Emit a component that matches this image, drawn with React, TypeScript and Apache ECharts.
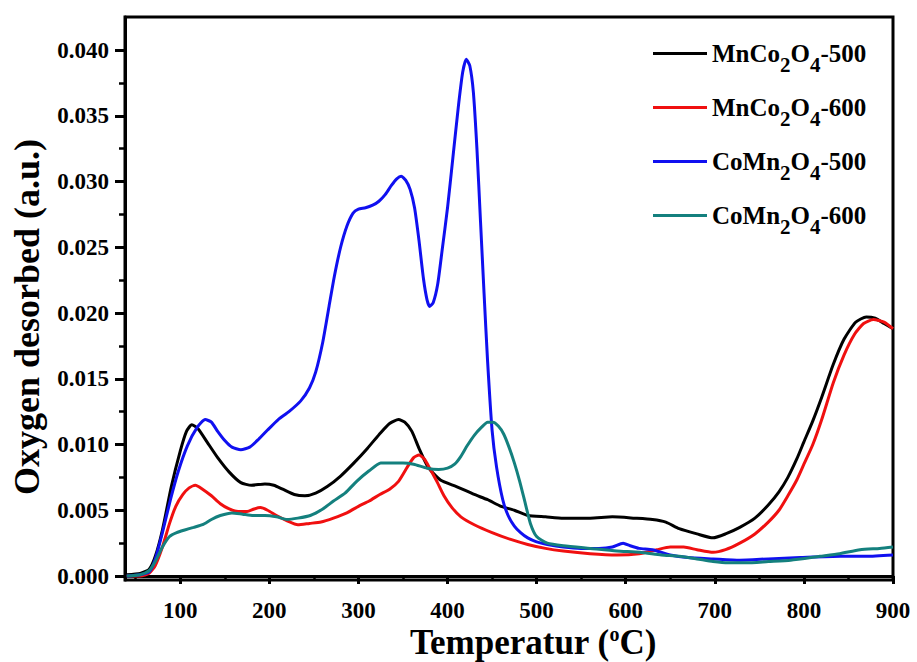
import React, { useEffect, useRef } from "react";
import * as echarts from "echarts";

const seriesNames = ["MnCo2O4-500", "MnCo2O4-600", "CoMn2O4-500", "CoMn2O4-600"];
const legendRich = ["MnCo{s|2}O{s|4}-500", "MnCo{s|2}O{s|4}-600", "CoMn{s|2}O{s|4}-500", "CoMn{s|2}O{s|4}-600"];
const seriesColors = ["#000000", "#f01010", "#1010f0", "#14807e"];
const xTitle = "Temperatur ({sup|o}C)";
const yTitle = "Oxygen desorbed (a.u.)";

const xTicks = [100, 200, 300, 400, 500, 600, 700, 800, 900];
const xMinorTicks = [50, 150, 250, 350, 450, 550, 650, 750, 850];
const yTicks = [0, 0.005, 0.01, 0.015, 0.02, 0.025, 0.03, 0.035, 0.04];
const yMinorTicks = [0.0025, 0.0075, 0.0125, 0.0175, 0.0225, 0.0275, 0.0325, 0.0375];

const blackT = [40, 55, 65, 72, 80, 90, 100, 107, 113, 120, 130, 142, 155, 168, 180, 195, 205, 215, 228, 240, 252, 265, 280, 295, 310, 325, 335, 345, 352, 360, 368, 378, 392, 410, 430, 445, 460, 475, 490, 510, 530, 560, 585, 610, 630, 645, 660, 680, 698, 712, 728, 745, 760, 772, 782, 792, 800, 810, 820, 833, 845, 858, 870, 880, 890, 900];
const blackV = [0.0001, 0.0002, 0.0005, 0.0015, 0.0035, 0.0068, 0.0095, 0.011, 0.0115, 0.0112, 0.0102, 0.009, 0.0079, 0.0071, 0.0069, 0.007, 0.0069, 0.0066, 0.0062, 0.0061, 0.0063, 0.0068, 0.0076, 0.0086, 0.0097, 0.0109, 0.0116, 0.0119, 0.0117, 0.011, 0.0097, 0.0083, 0.0073, 0.0068, 0.0062, 0.0058, 0.0053, 0.005, 0.0046, 0.0045, 0.0044, 0.0044, 0.0045, 0.0044, 0.0043, 0.0041, 0.0036, 0.0032, 0.0029, 0.0032, 0.0037, 0.0044, 0.0054, 0.0064, 0.0075, 0.0089, 0.0102, 0.0118, 0.0136, 0.0161, 0.018, 0.0193, 0.0197, 0.0196, 0.0192, 0.0188];

const redT = [40, 55, 65, 72, 80, 88, 95, 103, 110, 117, 125, 135, 145, 155, 165, 175, 183, 190, 198, 208, 220, 232, 245, 258, 272, 287, 300, 312, 324, 335, 345, 355, 362, 368, 374, 380, 388, 396, 405, 415, 430, 450, 470, 490, 510, 530, 560, 590, 615, 635, 650, 665, 680, 698, 712, 728, 745, 760, 772, 782, 792, 800, 810, 820, 833, 845, 857, 867, 878, 890, 900];
const redV = [0, 0, 0.0002, 0.0008, 0.0022, 0.004, 0.0053, 0.0062, 0.0067, 0.0069, 0.0066, 0.0061, 0.0055, 0.0051, 0.0049, 0.0049, 0.0051, 0.0052, 0.005, 0.0046, 0.0042, 0.0039, 0.004, 0.0041, 0.0044, 0.0048, 0.0053, 0.0057, 0.0062, 0.0066, 0.0072, 0.0083, 0.009, 0.0092, 0.0089, 0.0082, 0.0072, 0.0061, 0.0052, 0.0045, 0.0039, 0.0033, 0.0028, 0.0024, 0.0021, 0.0019, 0.0017, 0.0016, 0.0017, 0.002, 0.0022, 0.0022, 0.002, 0.0018, 0.002, 0.0025, 0.0032, 0.0041, 0.005, 0.0061, 0.0073, 0.0085, 0.01, 0.0119, 0.0147, 0.0168, 0.0184, 0.0192, 0.0195, 0.0193, 0.0188];

const blueT = [40, 55, 65, 72, 80, 89, 98, 108, 119, 128, 135, 142, 150, 158, 168, 178, 188, 198, 210, 222, 235, 245, 252, 260, 267, 273, 280, 287, 294, 300, 308, 316, 323, 330, 337, 343, 348, 353, 358, 363, 368, 373, 377, 380, 384, 389, 394, 400, 406, 412, 417, 421, 425, 429, 433, 437, 441, 445, 450, 455, 462, 468, 475, 482, 490, 500, 512, 530, 550, 570, 585, 597, 605, 615, 630, 650, 670, 698, 728, 760, 796, 841, 870, 900];
const blueV = [0, 0.0001, 0.0003, 0.0013, 0.0033, 0.0058, 0.008, 0.0099, 0.0113, 0.0119, 0.0117, 0.011, 0.0103, 0.0098, 0.0096, 0.0098, 0.0104, 0.0111, 0.0119, 0.0125, 0.0133, 0.0143, 0.0155, 0.0178, 0.0205, 0.0228, 0.025, 0.0266, 0.0276, 0.0279, 0.028, 0.0282, 0.0285, 0.029, 0.0297, 0.0302, 0.0304, 0.0301, 0.0294, 0.028, 0.0255, 0.0226, 0.021, 0.0205, 0.0208, 0.0222, 0.0248, 0.028, 0.0318, 0.0356, 0.0383, 0.0393, 0.0388, 0.0368, 0.0325, 0.027, 0.0215, 0.0163, 0.0111, 0.0083, 0.0058, 0.0046, 0.0038, 0.0033, 0.0029, 0.0026, 0.0024, 0.0022, 0.0021, 0.0021, 0.0022, 0.0025, 0.0023, 0.0021, 0.002, 0.0016, 0.0014, 0.0013, 0.0012, 0.0013, 0.0014, 0.0015, 0.0015, 0.0016];

const tealT = [40, 55, 65, 72, 80, 88, 96, 105, 115, 125, 135, 145, 158, 170, 182, 195, 208, 220, 232, 246, 260, 272, 285, 298, 312, 325, 338, 350, 362, 377, 390, 400, 408, 415, 422, 430, 438, 445, 451, 457, 463, 469, 475, 481, 487, 493, 500, 512, 530, 560, 590, 616, 640, 660, 680, 698, 715, 735, 760, 785, 818, 840, 863, 885, 900];
const tealV = [0, 0.0001, 0.0004, 0.0011, 0.0022, 0.003, 0.0033, 0.0035, 0.0037, 0.0039, 0.0043, 0.0046, 0.0048, 0.0047, 0.0046, 0.0046, 0.0045, 0.0043, 0.0044, 0.0046, 0.0051, 0.0057, 0.0063, 0.0072, 0.008, 0.0086, 0.0086, 0.0086, 0.0085, 0.0082, 0.0081, 0.0082, 0.0085, 0.0091, 0.0099, 0.0107, 0.0113, 0.0117, 0.0117, 0.0114, 0.0108, 0.0098, 0.0086, 0.0072, 0.0056, 0.004, 0.003, 0.0025, 0.0023, 0.0021, 0.0019, 0.0018, 0.0016, 0.0015, 0.0013, 0.0011, 0.001, 0.001, 0.0011, 0.0012, 0.0015, 0.0017, 0.002, 0.0021, 0.0022];

const allT = [blackT, redT, blueT, tealT];
const allV = [blackV, redV, blueV, tealV];

const FONT = '"Liberation Serif", "Times New Roman", serif';

export default function App() {
  const ref = useRef<HTMLDivElement>(null);
  useEffect(() => {
    if (!ref.current) return;
    const chart = echarts.init(ref.current, null, { renderer: "svg" });
    const labelStyle = { fontFamily: FONT, fontWeight: "bold" as const, fontSize: 23, lineHeight: 23, color: "#000" };
    const option: any = {
      animation: false,
      backgroundColor: "#fff",
      grid: {
        left: 125, right: 24, top: 17, bottom: 82,
        outerBoundsMode: "none",
        containLabel: false,
        show: true, borderColor: "#000", borderWidth: 3, backgroundColor: "transparent",
      },
      legend: {
        orient: "vertical",
        left: 648,
        top: 36,
        icon: "rect",
        itemWidth: 54,
        itemHeight: 3,
        itemGap: 20,
        data: seriesNames,
        formatter: (name: string) => legendRich[seriesNames.indexOf(name)],
        textStyle: {
          fontFamily: FONT,
          fontWeight: "bold",
          fontSize: 25,
          color: "#000",
          rich: {
            s: { fontFamily: FONT, fontWeight: "bold", fontSize: 21, color: "#000", padding: [22, 0, 0, 0] },
          },
        },
      },
      xAxis: [
        {
          type: "value",
          min: 38,
          max: 900,
          axisLine: { show: true, lineStyle: { color: "#000", width: 3 } },
          axisTick: { show: true, inside: false, length: 8, customValues: xTicks, lineStyle: { color: "#000", width: 3 } },
          axisLabel: { ...labelStyle, margin: 19, customValues: xTicks },
          splitLine: { show: false },
        },
        {
          type: "value",
          min: 38,
          max: 900,
          position: "bottom",
          axisLine: { show: false },
          axisTick: { show: true, inside: false, length: 5, customValues: xMinorTicks, lineStyle: { color: "#000", width: 2.5 } },
          axisLabel: { show: false, customValues: xMinorTicks },
          splitLine: { show: false },
        },
      ],
      yAxis: [
        {
          type: "value",
          min: -0.000304,
          max: 0.04251,
          axisLine: { show: true, lineStyle: { color: "#000", width: 3 } },
          axisTick: { show: true, inside: false, length: 10, customValues: yTicks, lineStyle: { color: "#000", width: 3 } },
          axisLabel: { ...labelStyle, margin: 16, customValues: yTicks, formatter: (v: number) => v.toFixed(3) },
          splitLine: { show: false },
        },
        {
          type: "value",
          min: -0.000304,
          max: 0.04251,
          position: "left",
          axisLine: { show: false },
          axisTick: { show: true, inside: false, length: 6, customValues: yMinorTicks, lineStyle: { color: "#000", width: 2.5 } },
          axisLabel: { show: false, customValues: yMinorTicks },
          splitLine: { show: false },
        },
      ],
      graphic: [
        {
          type: "text",
          x: 27,
          y: 317,
          rotation: Math.PI / 2,
          style: {
            text: yTitle,
            font: 'bold 36px "Liberation Serif"',
            fill: "#000",
            align: "center",
            verticalAlign: "middle",
            textAlign: "center",
            textVerticalAlign: "middle",
          },
        },
        {
          type: "text",
          x: 533,
          y: 642,
          style: {
            text: xTitle,
            fontFamily: FONT,
            fontWeight: "bold",
            fontSize: 35,
            lineHeight: 28,
            fill: "#000",
            align: "center",
            verticalAlign: "middle",
            textAlign: "center",
            textVerticalAlign: "middle",
            rich: { sup: { fontFamily: FONT, fontWeight: "bold", fontSize: 20, lineHeight: 12, padding: [0, 0, 16, 0], fill: "#000" } },
          },
        },
      ],
      series: seriesNames.map((name, i) => ({
        name,
        type: "line",
        xAxisIndex: 0,
        yAxisIndex: 0,
        symbol: "none",
        showSymbol: false,
        smooth: 0.2,
        color: seriesColors[i],
        lineStyle: { color: seriesColors[i], width: 3 },
        data: allT[i].map((t, j) => [t, allV[i][j]]),
        z: 3,
      })),
    };
    chart.setOption(option);
    return () => chart.dispose();
  }, []);
  return <div ref={ref} style={{ width: 917, height: 662, position: "absolute", left: 0, top: 0 }} />;
}
